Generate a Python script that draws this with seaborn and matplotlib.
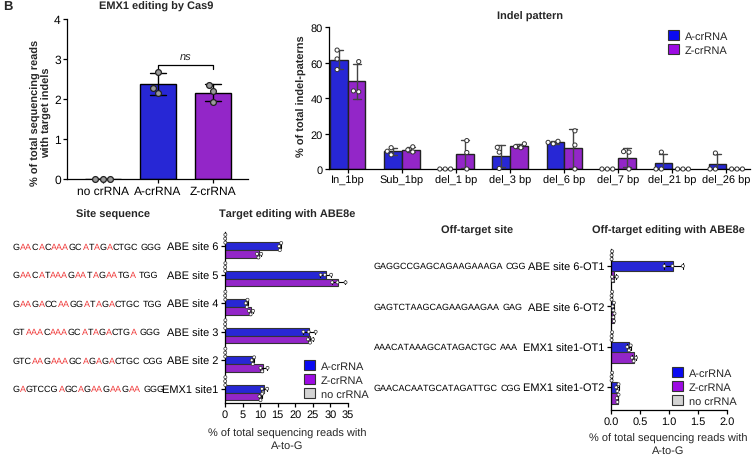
import pandas as pd
import matplotlib
matplotlib.use('Agg')
import matplotlib.pyplot as plt
import matplotlib.transforms as mtransforms
from matplotlib.font_manager import FontProperties
from matplotlib.ticker import FormatStrFormatter
from matplotlib.patches import Patch
import seaborn as sns

# ---------------- data ----------------
# EMX1 editing by Cas9 (3 replicates each)
cas9_groups = ['no crRNA', 'A-crRNA', 'Z-crRNA']
cas9_reps = [[0.0, 0.0, 0.0], [2.68, 2.28, 2.15], [2.35, 2.20, 1.93]]

# Indel pattern
indel_types = ['In_1bp', 'Sub_1bp', 'del_1 bp', 'del_3 bp', 'del_6 bp',
               'del_7 bp', 'del_21 bp', 'del_26 bp']
indel_a = [[67.0, 62.0, 56.0], [12.0, 10.0, 8.0], [0.0, 0.0, 0.0], [12.2, 9.5, 0.3],
           [14.2, 15.0, 15.6], [0.0, 0.0, 0.0], [9.5, 0.0, 0.0], [9.0, 0.0, 0.0]]
indel_z = [[60.5, 43.5, 44.0], [12.5, 10.8, 9.6], [16.0, 9.3, 0.0], [14.2, 12.6, 12.0],
           [21.5, 13.5, 0.0], [9.8, 9.5, 0.0], [0.0, 0.0, 0.0], [0.0, 0.0, 0.0]]

# Target editing with ABE8e
target_sites = ['ABE site 6', 'ABE site 5', 'ABE site 4', 'ABE site 3', 'ABE site 2', 'EMX1 site1']
target_seqs = ['GAACACAAAGCATAGACTGC GGG', 'GAACATAAAGAATAGAATGA TGG',
               'GAAGACCAAGGATAGACTGC TGG', 'GTAAACAAAGCATAGACTGA GGG',
               'GTCAAGAAAGCAGAGACTGC CGG', 'GAGTCCGAGCAGAAGAAGAA GGG']
target_none = [[0.05, 0.1, 0.08], [0.06, 0.1, 0.05], [0.05, 0.08, 0.1],
               [0.04, 0.1, 0.07], [0.05, 0.1, 0.06], [0.05, 0.08, 0.1]]
target_a = [[15.4, 15.6, 16.0], [27.2, 28.4, 30.2], [5.9, 6.2, 6.4],
            [22.3, 23.8, 25.8], [7.6, 7.9, 8.3], [10.5, 10.8, 12.0]]
target_z = [[9.1, 9.5, 10.3], [30.5, 32.0, 34.3], [6.8, 7.3, 8.0],
            [23.6, 24.2, 25.0], [10.1, 10.6, 12.1], [9.8, 10.1, 10.6]]

# Off-target editing with ABE8e
off_sites = ['ABE site 6-OT1', 'ABE site 6-OT2', 'EMX1 site1-OT1', 'EMX1 site1-OT2']
off_seqs = ['GAGGCCGAGCAGAAGAAAGA CGG', 'GAGTCTAAGCAGAAGAAGAA GAG',
            'AAACATAAAGCATAGACTGC AAA', 'GAACACAATGCATAGATTGC CGG']
off_none = [[0.01, 0.02, 0.01], [0.01, 0.02, 0.01], [0.01, 0.01, 0.02], [0.01, 0.02, 0.01]]
off_a = [[0.92, 1.06, 1.24], [0.03, 0.04, 0.05], [0.28, 0.31, 0.34], [0.09, 0.11, 0.13]]
off_z = [[0.02, 0.03, 0.10], [0.04, 0.05, 0.06], [0.36, 0.39, 0.43], [0.10, 0.11, 0.13]]

# ---------------- style ----------------
BLUE = '#0A0AF2'
PURPLE = '#9D0BE3'
GREY = '#D3D3D3'
RED = '#F03C3C'
guides = ['A-crRNA', 'Z-crRNA', 'no crRNA']

sns.set_style('ticks')
plt.rcParams['font.family'] = ['Liberation Sans', 'DejaVu Sans']
plt.rcParams['text.hinting'] = 'no_hinting'
plt.rcParams['text.hinting_factor'] = 1
plt.rcParams['axes.linewidth'] = 0.9
plt.rcParams['xtick.major.size'] = 3
plt.rcParams['ytick.major.size'] = 3
plt.rcParams['xtick.major.pad'] = 1.5
plt.rcParams['ytick.major.pad'] = 1.5

W, H = 753, 456
fig = plt.figure(figsize=(W / 100, H / 100), dpi=100)
renderer = fig.canvas.get_renderer()


def text_w(s, fs):
    # width in pixels, as the Agg renderer lays the string out
    prop = FontProperties(family='Liberation Sans', size=fs)
    return renderer.get_text_width_height_descent(s, prop, ismath=False)[0]


def px_axes(left, top, right, bottom):
    return fig.add_axes([left / W, 1 - bottom / H, (right - left) / W, (bottom - top) / H])


def long_form(cats, named):
    rows = []
    for name, reps in named.items():
        for c, vals in zip(cats, reps):
            for v in vals:
                rows.append((c, name, v))
    return pd.DataFrame(rows, columns=['cat', 'guide', 'value'])


def finish(ax):
    sns.despine(ax=ax)
    for sp in ['left', 'bottom']:
        ax.spines[sp].set_color('black')
    ax.tick_params(labelsize=8, colors='black', width=0.9)
    ax.set_xlabel('')
    ax.set_ylabel('')
    for c in ax.collections:
        c.set_clip_on(False)


def draw_seq(ax, x, y, seq, highlight, fs):
    # split into coloured runs; each run placed where it falls in the whole string
    proto, pam = seq.split(' ')
    runs = []
    pos = 0
    for ch in proto:
        col = RED if (highlight and ch == 'A') else 'black'
        if runs and runs[-1][1] == col:
            runs[-1][0] += ch
        else:
            runs.append([ch, col, pos])
        pos += 1
    runs.append([pam, 'black', len(proto) + 1])
    base = mtransforms.blended_transform_factory(fig.transFigure, ax.transData)
    for txt, col, start in runs:
        off = 0.0
        if start > 0:
            off = text_w(seq[:start] + txt[0], fs) - text_w(txt[0], fs)
        trans = base + mtransforms.ScaledTranslation(off / fig.dpi, 0, fig.dpi_scale_trans)
        ax.text(x / W, y, txt, color=col, transform=trans, va='center', ha='left',
                fontsize=fs, clip_on=False)


def square_legend(ax, names, colors, anchor, loc):
    handles = [Patch(facecolor=c, edgecolor='#333333', linewidth=0.8, label=n)
               for n, c in zip(names, colors)]
    ax.legend(handles=handles, loc=loc, bbox_to_anchor=anchor, bbox_transform=fig.transFigure,
              frameon=False, fontsize=8, handlelength=1.0, handleheight=1.0,
              handletextpad=0.5, labelspacing=0.25, borderpad=0, borderaxespad=0)


# ---------------- panel A ----------------
ax_a = px_axes(67, 20, 248, 180)
df_a = pd.DataFrame([(g, v) for g, reps in zip(cas9_groups, cas9_reps) for v in reps],
                    columns=['group', 'value'])
sns.barplot(data=df_a, x='group', y='value', hue='group', order=cas9_groups,
            hue_order=cas9_groups, palette=[GREY, BLUE, PURPLE], errorbar='sd',
            capsize=0.3, width=0.65, edgecolor='black', linewidth=1,
            err_kws={'color': 'black', 'linewidth': 1}, legend=False, ax=ax_a)
sns.swarmplot(data=df_a, x='group', y='value', order=cas9_groups, color='#9A9A9A',
              edgecolor='#222222', linewidth=0.9, size=4.2, ax=ax_a)
ax_a.set_xlim(-0.65, 2.64)
ax_a.set_ylim(0, 4)
ax_a.set_yticks([0, 1, 2, 3, 4])
finish(ax_a)
ax_a.tick_params(labelsize=8.5)
ax_a.plot([1, 1, 2, 2], [2.75, 2.85, 2.85, 2.75], color='black', lw=0.9)
ax_a.text(1.5, 2.93, 'ns', ha='center', va='bottom', style='italic', fontsize=8)
fig.text(156 / W, 1 - 7 / H, 'EMX1 editing by Cas9', ha='center', va='center',
         fontsize=7.8, fontweight='bold')
fig.text(41 / W, 1 - 113 / H, '% of total sequencing reads\nwith target indels', rotation=90,
         ha='center', va='center', fontsize=7.8, fontweight='bold', linespacing=1.1)
fig.text(3 / W, 1 - 7 / H, 'B', ha='left', va='center', fontsize=9, fontweight='bold')

# ---------------- panel B ----------------
ax_b = px_axes(329, 28, 750, 170)
df_b = long_form(indel_types, {'A-crRNA': indel_a, 'Z-crRNA': indel_z})
sns.barplot(data=df_b, x='cat', y='value', hue='guide', order=indel_types,
            hue_order=guides[:2], palette=[BLUE, PURPLE], errorbar='sd', capsize=0.3,
            width=0.65, edgecolor='#222222', linewidth=1,
            err_kws={'color': '#444444', 'linewidth': 1}, ax=ax_b)
sns.swarmplot(data=df_b, x='cat', y='value', hue='guide', order=indel_types,
              hue_order=guides[:2], palette={'A-crRNA': 'white', 'Z-crRNA': 'white'},
              dodge=True, edgecolor='#333333', linewidth=0.7, size=3, legend=False, ax=ax_b)
ax_b.set_xlim(-0.35, 7.44)
ax_b.set_ylim(0, 80)
ax_b.set_yticks([0, 20, 40, 60, 80])
finish(ax_b)
ax_b.tick_params(axis='x', labelsize=8.2)
square_legend(ax_b, guides[:2], [BLUE, PURPLE], (668 / W, 1 - 31 / H), 'upper left')
fig.text(530 / W, 1 - 17 / H, 'Indel pattern', ha='center', va='center',
         fontsize=7.8, fontweight='bold')
fig.text(302 / W, 1 - 96 / H, '% of total indel-paterns', rotation=90,
         ha='center', va='center', fontsize=7.8, fontweight='bold')

# ---------------- panel C ----------------
ax_c = px_axes(225, 233, 348, 404)
df_c = long_form(target_sites, {'no crRNA': target_none, 'A-crRNA': target_a,
                                'Z-crRNA': target_z})
order3 = ['no crRNA', 'A-crRNA', 'Z-crRNA']
sns.barplot(data=df_c, y='cat', x='value', hue='guide', order=target_sites,
            hue_order=order3, palette=[GREY, BLUE, PURPLE], orient='h', errorbar='sd',
            capsize=0.4, width=0.8, edgecolor='#333333', linewidth=0.8,
            err_kws={'color': 'black', 'linewidth': 0.8}, ax=ax_c)
sns.swarmplot(data=df_c, y='cat', x='value', hue='guide', order=target_sites,
              hue_order=order3, palette={g: 'white' for g in order3}, orient='h',
              dodge=True, edgecolor='#333333', linewidth=0.5, size=2.2, legend=False, ax=ax_c)
ax_c.set_xlim(0, 35)
ax_c.set_xticks(range(0, 36, 5))
ax_c.set_ylim(5.5, -0.5)
finish(ax_c)
square_legend(ax_c, guides, [BLUE, PURPLE, GREY], (304 / W, 1 - 400 / H), 'lower left')
for i, seq in enumerate(target_seqs):
    draw_seq(ax_c, 13, i, seq, True, 6.6)
fig.text(113 / W, 1 - 215 / H, 'Site sequence', ha='center', va='center',
         fontsize=7.8, fontweight='bold')
fig.text(287 / W, 1 - 215 / H, 'Target editing with ABE8e', ha='center', va='center',
         fontsize=7.8, fontweight='bold')
fig.text(287 / W, 1 - 440 / H, '% of total sequencing reads with\nA-to-G', ha='center',
         va='center', fontsize=8, linespacing=1.15)

# ---------------- panel D ----------------
ax_d = px_axes(611, 250, 727, 411)
df_d = long_form(off_sites, {'no crRNA': off_none, 'A-crRNA': off_a, 'Z-crRNA': off_z})
sns.barplot(data=df_d, y='cat', x='value', hue='guide', order=off_sites,
            hue_order=order3, palette=[GREY, BLUE, PURPLE], orient='h', errorbar='sd',
            capsize=0.4, width=0.8, edgecolor='#333333', linewidth=0.8,
            err_kws={'color': 'black', 'linewidth': 0.8}, ax=ax_d)
sns.swarmplot(data=df_d, y='cat', x='value', hue='guide', order=off_sites,
              hue_order=order3, palette={g: 'white' for g in order3}, orient='h',
              dodge=True, edgecolor='#333333', linewidth=0.5, size=2.2, legend=False, ax=ax_d)
ax_d.set_xlim(0, 2)
ax_d.set_xticks([0, 0.5, 1.0, 1.5, 2.0])
ax_d.xaxis.set_major_formatter(FormatStrFormatter('%.1f'))
ax_d.set_ylim(3.56, -0.42)
finish(ax_d)
ax_d.tick_params(axis='y', labelsize=7.8)
square_legend(ax_d, guides, [BLUE, PURPLE, GREY], (672 / W, 1 - 407 / H), 'lower left')
for i, seq in enumerate(off_seqs):
    draw_seq(ax_d, 374, i, seq, False, 6.6)
fig.text(477 / W, 1 - 231 / H, 'Off-target site', ha='center', va='center',
         fontsize=7.8, fontweight='bold')
fig.text(668 / W, 1 - 231 / H, 'Off-target editing with ABE8e', ha='center', va='center',
         fontsize=7.8, fontweight='bold')
fig.text(668 / W, 1 - 445 / H, '% of total sequencing reads with\nA-to-G', ha='center',
         va='center', fontsize=8, linespacing=1.15)

fig.savefig('out.png', dpi=100)
